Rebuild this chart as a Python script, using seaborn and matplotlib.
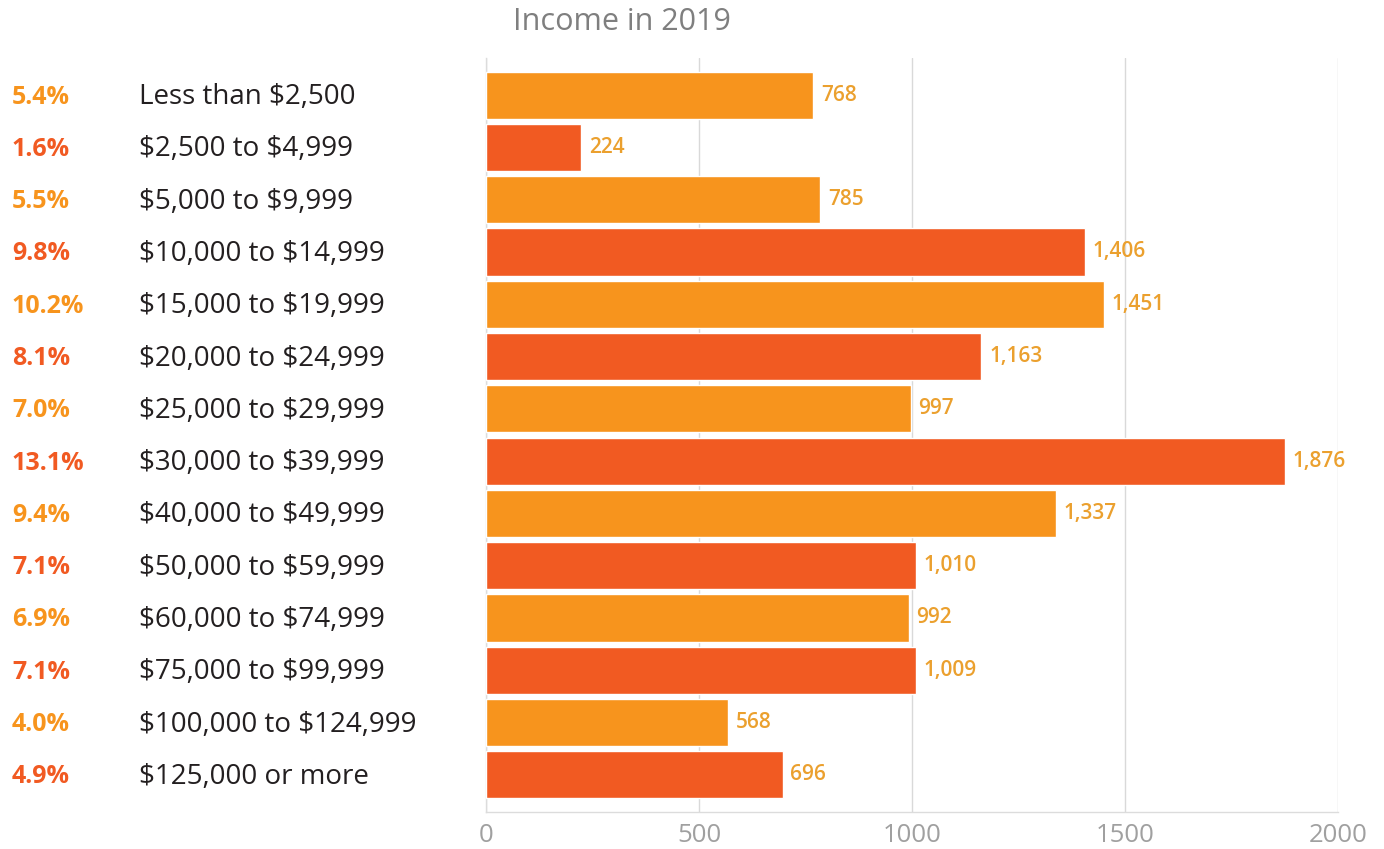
import matplotlib
matplotlib.use("Agg")
import matplotlib.pyplot as plt
import seaborn as sns
import pandas as pd

categories = [
    "Less than $2,500", "$2,500 to $4,999", "$5,000 to $9,999",
    "$10,000 to $14,999", "$15,000 to $19,999", "$20,000 to $24,999",
    "$25,000 to $29,999", "$30,000 to $39,999", "$40,000 to $49,999",
    "$50,000 to $59,999", "$60,000 to $74,999", "$75,000 to $99,999",
    "$100,000 to $124,999", "$125,000 or more",
]
households = [768, 224, 785, 1406, 1451, 1163, 997, 1876, 1337, 1010, 992, 1009, 568, 696]
shares = ["5.4%", "1.6%", "5.5%", "9.8%", "10.2%", "8.1%", "7.0%", "13.1%",
          "9.4%", "7.1%", "6.9%", "7.1%", "4.0%", "4.9%"]
x_ticks = [0, 500, 1000, 1500, 2000]

LIGHT = "#F7941D"
DARK = "#F15A22"
VALUE_COLOR = "#EBA02E"
palette = [LIGHT if i % 2 == 0 else DARK for i in range(len(categories))]

sns.set_theme(style="white")
plt.rcParams["font.family"] = ["Open Sans", "DejaVu Sans"]
plt.rcParams["text.parse_math"] = False

df = pd.DataFrame({"category": categories, "households": households})

fig = plt.figure(figsize=(13.84, 8.49), dpi=100)
ax = fig.add_axes([0.3512, 0.0436, 0.6156, 0.8881])

sns.barplot(data=df, y="category", x="households", hue="category",
            palette=palette, legend=False, width=0.9, saturation=1,
            ax=ax, zorder=3)

ax.set_xlim(0, 2000)
ax.set_ylim(len(categories) - 0.29, -0.71)
ax.set_xticks(x_ticks)
ax.set_xticklabels([str(t) for t in x_ticks], fontsize=18.5, color="#a0a0a0")
ax.tick_params(axis="x", length=0, pad=8)
ax.set_yticks([])
ax.set_xlabel("")
ax.set_ylabel("")
ax.grid(axis="x", color="#d9d9d9", linewidth=1, zorder=0)
for side in ["top", "right"]:
    ax.spines[side].set_visible(False)
for side in ["left", "bottom"]:
    ax.spines[side].set_color("#dcdcdc")
    ax.spines[side].set_linewidth(1)

# value labels at the bar ends
for i, v in enumerate(households):
    ax.text(v + 18, i, f"{v:,}", va="center", ha="left", fontsize=15,
            fontweight="semibold", color=VALUE_COLOR, zorder=4)

# share and category labels to the left of the axes
for i, (cat, share) in enumerate(zip(categories, shares)):
    y_fig = (ax.transData.transform((0, i))[1] - 2) / fig.bbox.height
    fig.text(12 / 1384, y_fig, share, ha="left", va="center",
             fontsize=18, fontweight="bold", color=palette[i])
    fig.text(139 / 1384, y_fig, cat, ha="left", va="center",
             fontsize=20, color="#231f20")

fig.text(622 / 1384, 1 - 22 / 849, "Income in 2019", ha="center", va="center",
         fontsize=22, color="#7f7f7f")

fig.savefig("out.png", dpi=100)
